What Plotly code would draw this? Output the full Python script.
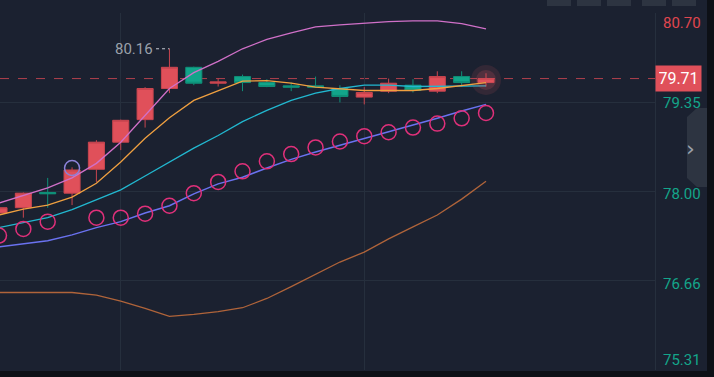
import plotly.graph_objects as go

# ---------------- data ----------------
idx = list(range(21))
opens  = [77.68, 77.76, 77.99, 77.98, 78.34, 78.75, 79.09, 79.56, 79.88, 79.64, 79.74,
          79.65, 79.60, 79.60, 79.56, 79.43, 79.52, 79.61, 79.52, 79.74, 79.65]
highs  = [77.78, 77.99, 78.21, 78.37, 78.78, 79.09, 79.58, 80.16, 79.89, 79.71, 79.77,
          79.70, 79.65, 79.74, 79.61, 79.58, 79.71, 79.70, 79.82, 79.82, 79.79]
lows   = [77.66, 77.61, 77.76, 77.80, 78.15, 78.63, 78.97, 79.49, 79.61, 79.59, 79.52,
          79.58, 79.52, 79.57, 79.35, 79.32, 79.49, 79.50, 79.49, 79.59, 79.59]
closes = [77.76, 77.98, 77.97, 78.33, 78.75, 79.08, 79.56, 79.88, 79.64, 79.66, 79.65,
          79.59, 79.58, 79.58, 79.44, 79.50, 79.64, 79.53, 79.74, 79.65, 79.71]

upper_band = [77.83, 77.94, 78.06, 78.21, 78.43, 78.75, 79.16, 79.56, 79.80, 79.97, 80.16,
              80.30, 80.40, 80.49, 80.52, 80.55, 80.57, 80.58, 80.58, 80.54, 80.46]
ma_fast    = [77.65, 77.74, 77.80, 77.92, 78.13, 78.45, 78.81, 79.12, 79.38, 79.53, 79.67,
              79.68, 79.64, 79.58, 79.55, 79.53, 79.53, 79.53, 79.56, 79.61, 79.65]
ma_mid     = [77.46, 77.53, 77.61, 77.73, 77.88, 78.03, 78.24, 78.45, 78.66, 78.85, 79.06,
              79.23, 79.38, 79.49, 79.56, 79.61, 79.61, 79.59, 79.59, 79.59, 79.60]
ma_slow    = [77.17, 77.22, 77.26, 77.35, 77.46, 77.55, 77.68, 77.79, 77.97, 78.12, 78.22,
              78.36, 78.49, 78.60, 78.70, 78.81, 78.90, 79.00, 79.11, 79.22, 79.32]
lower_band = [76.48, 76.48, 76.48, 76.48, 76.44, 76.35, 76.24, 76.12, 76.15, 76.19, 76.25,
              76.39, 76.57, 76.76, 76.94, 77.09, 77.29, 77.47, 77.65, 77.89, 78.16]
sar_idx    = [0, 1, 2, 4, 5, 6, 7, 8, 9, 10, 11, 12, 13, 14, 15, 16, 17, 18, 19, 20]
sar_vals   = [77.34, 77.44, 77.55, 77.61, 77.61, 77.67, 77.79, 77.98, 78.15, 78.31,
              78.46, 78.57, 78.67, 78.76, 78.84, 78.90, 78.97, 79.03, 79.11, 79.19]
sar_flip_idx = [3]
sar_flip_val = [78.36]

last_price = 79.71
tick_vals = [80.70, 79.35, 78.00, 76.66, 75.31]
tick_text = ["80.70", "79.35", "78.00", "76.66", "75.31"]
tick_colors = ["#e0464f", "#14a58a", "#14a58a", "#14a58a", "#14a58a"]
tick_shift = [-10, -1, -2, -3, 10]

# ---------------- style ----------------
BG = "#1b2130"
GRID = "#262f3d"
RED = "#e0505a"
GREEN = "#12a58a"
W, H = 714, 377
L, R, T, B = 0, 59, 13, 7
X0, X1 = 0.041, 26.94
Y0, Y1 = 75.31, 80.70

fig = go.Figure()

# bands / moving averages
fig.add_trace(go.Scatter(x=idx, y=lower_band, mode="lines",
                         line=dict(color="#b0643a", width=1.3), hoverinfo="skip"))
fig.add_trace(go.Scatter(x=idx, y=upper_band, mode="lines",
                         line=dict(color="#d070c8", width=1.3), hoverinfo="skip"))
fig.add_trace(go.Scatter(x=idx, y=ma_slow, mode="lines",
                         line=dict(color="#6a72f0", width=1.5), hoverinfo="skip"))
fig.add_trace(go.Scatter(x=idx, y=ma_mid, mode="lines",
                         line=dict(color="#22b8d0", width=1.3), hoverinfo="skip"))

# glow on the last candle
fig.add_trace(go.Scatter(x=[idx[-1]], y=[closes[-1] - 0.02], mode="markers",
                         marker=dict(size=30, color="rgba(230,90,100,0.12)", line=dict(width=0)),
                         hoverinfo="skip"))
fig.add_trace(go.Scatter(x=[idx[-1]], y=[closes[-1] - 0.02], mode="markers",
                         marker=dict(size=20, color="rgba(230,90,100,0.18)", line=dict(width=0)),
                         hoverinfo="skip"))

# candles
fig.add_trace(go.Candlestick(
    x=idx, open=opens, high=highs, low=lows, close=closes,
    increasing=dict(line=dict(color="#c8454f", width=1), fillcolor=RED),
    decreasing=dict(line=dict(color="#0f8f78", width=1), fillcolor=GREEN),
    whiskerwidth=0, hoverinfo="skip"))

fig.add_trace(go.Scatter(x=idx, y=ma_fast, mode="lines",
                         line=dict(color="#f0a040", width=1.3), hoverinfo="skip"))

# SAR circles
fig.add_trace(go.Scatter(x=sar_idx, y=sar_vals, mode="markers",
                         marker=dict(symbol="circle-open", size=15, color="#e0307a",
                                     line=dict(width=1.5)), hoverinfo="skip"))
fig.add_trace(go.Scatter(x=sar_flip_idx, y=sar_flip_val, mode="markers",
                         marker=dict(symbol="circle-open", size=15, color="#8c82d8",
                                     line=dict(width=1.5)), hoverinfo="skip"))

# last price dashed line
fig.add_shape(type="line", xref="paper", yref="y", x0=0, x1=1, y0=last_price, y1=last_price,
              line=dict(color="#b0404c", width=1, dash="dash"), layer="below")

# max high label
imax = highs.index(max(highs))
fig.add_shape(type="line", xref="x", yref="y", x0=imax - 0.55, x1=imax, y0=highs[imax], y1=highs[imax],
              line=dict(color="#c8ccd4", width=1, dash="dot"))
fig.add_annotation(x=imax - 0.6, y=highs[imax], xref="x", yref="y", text=f"{highs[imax]:.2f}",
                   showarrow=False, xanchor="right", yanchor="middle",
                   font=dict(family="Roboto", size=15, color="#9aa0aa"))

# right axis labels
for v, t, c, s in zip(tick_vals, tick_text, tick_colors, tick_shift):
    fig.add_annotation(x=1, xref="paper", y=v, yref="y", text=t, showarrow=False,
                       xanchor="left", yanchor="middle", xshift=6, yshift=s,
                       font=dict(family="Roboto", size=15, color=c))

# current price tag
fig.add_annotation(x=1, xref="paper", y=last_price, yref="y", text=f"{last_price:.2f}",
                   showarrow=False, xanchor="left", yanchor="middle", xshift=0,
                   font=dict(family="Roboto", size=16, color="#ffffff"),
                   bgcolor=RED, borderpad=3, width=39, align="center")

# right side collapse tab
pw = W - L - R
def px(xp):
    return (xp - L) / pw
ph = H - T - B
def py(yp):
    return 1 - (yp - T) / ph
fig.add_shape(type="path", xref="paper", yref="paper",
              path=f"M {px(697)},{py(108)} L {px(707)},{py(108)} L {px(707)},{py(187)} "
                   f"L {px(697)},{py(187)} L {px(687)},{py(178)} L {px(687)},{py(117)} Z",
              fillcolor="#2d3441", line=dict(width=0))
fig.add_annotation(x=px(697), y=py(148), xref="paper", yref="paper", text="›", showarrow=False,
                   font=dict(family="DejaVu Sans", size=22, color="#9aa0aa"))
# outer frame
fig.add_shape(type="rect", xref="paper", yref="paper", x0=px(707), x1=px(716), y0=py(380), y1=py(-5),
              fillcolor="#0d1016", line=dict(width=0))
fig.add_shape(type="rect", xref="paper", yref="paper", x0=px(-2), x1=px(716), y0=py(380), y1=py(371),
              fillcolor="#0d1016", line=dict(width=0))
# top toolbar buttons (partially visible)
for bx in [547, 577, 607, 642, 672]:
    fig.add_shape(type="rect", xref="paper", yref="paper", x0=px(bx), x1=px(bx + 24),
                  y0=py(6), y1=py(-10), fillcolor="#2d3441", line=dict(width=0))

fig.update_layout(
    width=W, height=H,
    margin=dict(l=L, r=R, t=T, b=B),
    paper_bgcolor=BG, plot_bgcolor=BG,
    showlegend=False,
    boxgap=0.34, boxgroupgap=0,
    xaxis=dict(range=[X0, X1], tickvals=[5, 15], showticklabels=False, showgrid=True,
               gridcolor=GRID, gridwidth=1, zeroline=False, rangeslider=dict(visible=False),
               showline=False, fixedrange=True),
    yaxis=dict(range=[Y0, Y1], side="right", tickvals=tick_vals, showticklabels=False,
               showgrid=True, gridcolor=GRID, gridwidth=1, zeroline=False,
               showline=True, linecolor=GRID, linewidth=1, mirror=False, ticks=""),
)

fig.write_html("out.html", config={"displayModeBar": False},
               post_script="document.body.style.margin='0';document.body.style.background='#1b2130';")
